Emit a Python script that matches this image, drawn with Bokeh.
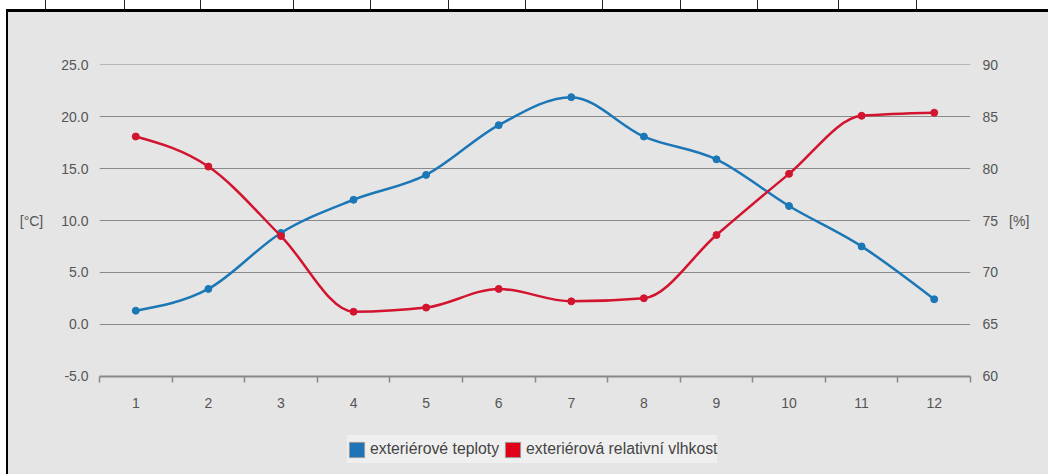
from bokeh.plotting import figure
from bokeh.models import (Range1d, LinearAxis, FixedTicker, Legend, LegendItem,
                          NumeralTickFormatter, Div)
from bokeh.layouts import column, row
from bokeh.embed import file_html
from bokeh.resources import INLINE

# ---- data ----
months = [1, 2, 3, 4, 5, 6, 7, 8, 9, 10, 11, 12]
temperature = [1.3, 3.4, 8.8, 12.0, 14.4, 19.2, 21.9, 18.1, 15.9, 11.4, 7.5, 2.4]
humidity = [83.1, 80.2, 73.5, 66.2, 66.6, 68.4, 67.2, 67.5, 73.6, 79.5, 85.1, 85.4]
temp_ticks = [-5, 0, 5, 10, 15, 20, 25]
hum_ticks = [60, 65, 70, 75, 80, 85, 90]
series_names = ["exteriérové teploty", "exteriérová relativní vlhkost"]
axis_labels = ["[°C]", "[%]"]

# decoration: the table rules visible above the chart box
table_rule_x = [45, 124, 200, 293, 370, 448, 525, 602, 680, 757, 838, 916]

BLUE = "#1b77b6"
RED = "#d2142f"
BG = "#e5e5e5"
FONT = "Liberation Sans"
TXT = "#555555"
PAD = 0.048  # tiny range padding so the edge gridlines are not half clipped


def sign(v):
    return (v > 0) - (v < 0)


def monotone_bezier(xs, ys):
    """Control points of a monotone cubic curve through the points (d3 monotoneX)."""
    n = len(xs)
    h = [xs[i + 1] - xs[i] for i in range(n - 1)]
    s = [(ys[i + 1] - ys[i]) / h[i] for i in range(n - 1)]
    m = [0.0] * n
    for i in range(1, n - 1):
        s0, s1, h0, h1 = s[i - 1], s[i], h[i - 1], h[i]
        p = (s0 * h1 + s1 * h0) / (h0 + h1)
        m[i] = (sign(s0) + sign(s1)) * min(abs(s0), abs(s1), 0.5 * abs(p))
    m[0] = (3 * s[0] - m[1]) / 2
    m[-1] = (3 * s[-1] - m[-2]) / 2
    out = dict(x0=[], y0=[], x1=[], y1=[], cx0=[], cy0=[], cx1=[], cy1=[])
    for i in range(n - 1):
        d = h[i] / 3
        out["x0"].append(xs[i]); out["y0"].append(ys[i])
        out["x1"].append(xs[i + 1]); out["y1"].append(ys[i + 1])
        out["cx0"].append(xs[i] + d); out["cy0"].append(ys[i] + m[i] * d)
        out["cx1"].append(xs[i + 1] - d); out["cy1"].append(ys[i + 1] - m[i + 1] * d)
    return out


PW = 1040
p = figure(width=PW, height=413, output_backend="svg", toolbar_location=None,
           x_range=Range1d(0.5, 12.5),
           y_range=Range1d(temp_ticks[0] - PAD, temp_ticks[-1] + PAD),
           min_border_left=91, min_border_right=78, min_border_top=52,
           min_border_bottom=49, margin=0)
p.extra_y_ranges = {"hum": Range1d(hum_ticks[0] - PAD, hum_ticks[-1] + PAD)}
p.background_fill_color = BG
p.border_fill_color = BG
p.outline_line_color = None
p.xgrid.grid_line_color = None
p.ygrid.grid_line_color = "#8a8a8a"
p.ygrid.grid_line_width = 1.2


def style_y(ax, label, label_standoff, tick_standoff):
    ax.axis_label = label
    ax.axis_label_orientation = "horizontal"
    ax.axis_label_text_font_style = "normal"
    ax.axis_label_text_font = FONT
    ax.axis_label_text_font_size = "14px"
    ax.axis_label_text_color = TXT
    ax.axis_label_standoff = label_standoff
    ax.axis_line_color = None
    ax.major_tick_line_color = None
    ax.minor_tick_line_color = None
    ax.major_tick_out = 0
    ax.major_tick_in = 0
    ax.minor_tick_out = 0
    ax.major_label_standoff = tick_standoff
    ax.major_label_text_font = FONT
    ax.major_label_text_font_size = "14px"
    ax.major_label_text_color = TXT


ya = p.yaxis[0]
ya.ticker = FixedTicker(ticks=temp_ticks)
ya.formatter = NumeralTickFormatter(format="0.0")
style_y(ya, axis_labels[0], 15, 11)

ra = LinearAxis(y_range_name="hum", ticker=FixedTicker(ticks=hum_ticks))
style_y(ra, axis_labels[1], 8, 12)
p.add_layout(ra, "right")

# bottom axis: labels at month centres, tick marks at the band edges
xa = p.xaxis[0]
xa.ticker = FixedTicker(ticks=months, minor_ticks=[m - 0.5 for m in months] + [months[-1] + 0.5])
xa.major_tick_out = 0
xa.major_tick_in = 0
xa.minor_tick_out = 6
xa.minor_tick_in = 0
xa.minor_tick_line_color = "#888888"
xa.minor_tick_line_width = 1.5
xa.axis_line_color = "#888888"
xa.axis_line_width = 2
xa.major_label_standoff = 15
xa.major_label_text_font = FONT
xa.major_label_text_font_size = "14px"
xa.major_label_text_color = TXT

# curves
tb = monotone_bezier(months, temperature)
p.bezier(x0="x0", y0="y0", x1="x1", y1="y1", cx0="cx0", cy0="cy0", cx1="cx1", cy1="cy1",
         source=tb, line_color=BLUE, line_width=2.5)
p.scatter(months, temperature, size=7, color=BLUE)

hb = monotone_bezier(months, humidity)
p.bezier(x0="x0", y0="y0", x1="x1", y1="y1", cx0="cx0", cy0="cy0", cx1="cx1", cy1="cy1",
         source=hb, line_color=RED, line_width=2.5, y_range_name="hum")
p.scatter(months, humidity, size=7, color=RED, y_range_name="hum")

# ---- legend strip (separate small figure so the legend is not clipped) ----
pl = figure(width=PW, height=49, output_backend="svg", toolbar_location=None,
            x_range=Range1d(0, 1), y_range=Range1d(0, 1),
            x_axis_location=None, y_axis_location=None,
            min_border=0, margin=0)
pl.background_fill_color = None
pl.border_fill_color = None
pl.outline_line_color = None
pl.grid.grid_line_color = None
sw1 = pl.rect(x=[-10], y=[-10], width=0.1, height=0.1, fill_color="#1f73b7", line_color="#9a9a9a")
sw2 = pl.rect(x=[-10], y=[-10], width=0.1, height=0.1, fill_color="#e0001a", line_color="#9a9a9a")
legend = Legend(items=[LegendItem(label=series_names[0], renderers=[sw1]),
                       LegendItem(label=series_names[1], renderers=[sw2])],
                orientation="horizontal", location=(248, 11),
                glyph_width=19, glyph_height=19, label_standoff=4, spacing=4,
                padding=3, label_height=28, margin=0,
                background_fill_color="#efefef", background_fill_alpha=1,
                border_line_color=None,
                label_text_font=FONT, label_text_font_size="15.8px",
                label_text_color="#444444")
pl.add_layout(legend, "center")

# ---- surrounding document frame ----
rules = "".join(
    f'<div style="position:absolute;left:{x}px;top:0;width:1px;height:9px;background:#222;"></div>'
    for x in table_rule_x)
top_html = ('<div style="position:relative;width:1048px;height:12px;background:white;">'
            + rules +
            '<div style="position:absolute;left:6px;top:9px;width:1042px;height:3px;background:black;"></div>'
            '</div>')
top_div = Div(text=top_html, width=1048, height=12, margin=0)
left_div = Div(text="", width=8, height=462, margin=0,
               styles={"background": "linear-gradient(to right, white 6px, black 6px)"})

chart = column(p, pl, spacing=0, styles={"background-color": BG})
layout = column(top_div, row(left_div, chart, spacing=0), spacing=0)

open("out.html", "w").write(file_html(layout, INLINE))
